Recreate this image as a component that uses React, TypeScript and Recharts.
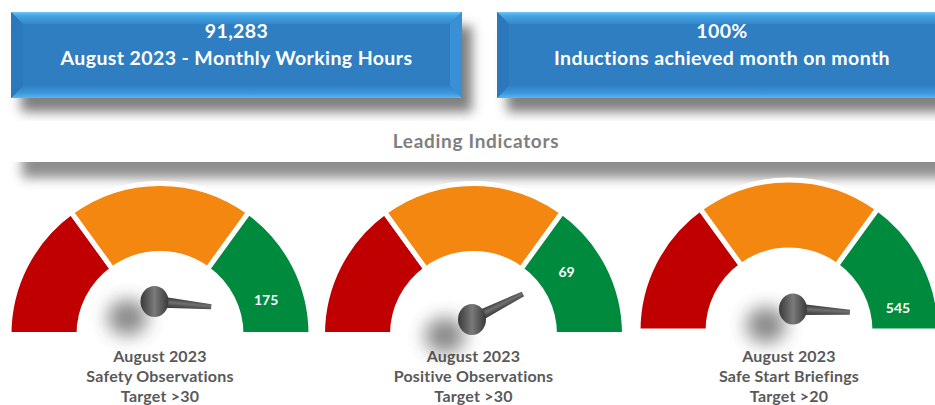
import React from 'react';
import { PieChart, Pie, Cell } from 'recharts';

// ---------- data ----------
const headerValues = ['91,283', '100%'];
const headerLabels = ['August 2023 - Monthly Working Hours', 'Inductions achieved month on month'];
const sectionTitle = 'Leading Indicators';

const gaugePeriods = ['August 2023', 'August 2023', 'August 2023'];
const gaugeNames = ['Safety Observations', 'Positive Observations', 'Safe Start Briefings'];
const gaugeTargets = ['Target >30', 'Target >30', 'Target >20'];
const gaugeValues = [175, 69, 545];
const dialMax = [170, 81, 535];

const bandNames = ['Red', 'Amber', 'Green'];
const bandShares = [30, 40, 30];

// ---------- layout / style ----------
const W = 935;
const H = 405;
const FONT = 'Lato, "Open Sans", "DejaVu Sans", sans-serif';
const bandColors = ['#C00000', '#F4870F', '#008A3E'];
const OUTER = 148.5;
const INNER = 83.5;
const GAP = 5;

const gaugeLayout = [
  { cx: 160, cy: 332, px: 154.5, py: 301.5, labelAngle: 17 },
  { cx: 473.5, cy: 332, px: 472, py: 319.5, labelAngle: 33 },
  { cx: 789, cy: 328.5, px: 793, py: 309, labelAngle: 11 },
];

const headerBoxes = [
  { x: 11, y: 12, w: 451, h: 86 },
  { x: 497, y: 12, w: 450, h: 86 },
];

const bandData = bandNames.map((name, i) => ({ name, value: bandShares[i] }));

function needleData(i: number) {
  return [
    { name: 'value', value: gaugeValues[i] },
    { name: 'rest', value: dialMax[i] * 2 - gaugeValues[i] },
  ];
}

function HeaderBox({ x, y, w, h }: { x: number; y: number; w: number; h: number }) {
  const b = 12;
  return (
    <g>
      <rect x={x + 10} y={y + 14} width={w} height={h} fill="#5f5f5f" opacity={0.8} filter="url(#hdrShadow)" />
      <rect x={x} y={y} width={w} height={h} fill="#2F7EC2" />
      <polygon points={`${x},${y} ${x + w},${y} ${x + w - b},${y + b} ${x + b},${y + b}`} fill="url(#bevTop)" />
      <polygon points={`${x},${y + h} ${x + w},${y + h} ${x + w - b},${y + h - b} ${x + b},${y + h - b}`} fill="url(#bevBot)" />
      <polygon points={`${x},${y} ${x + b},${y + b} ${x + b},${y + h - b} ${x},${y + h}`} fill="#2C78BD" />
      <polygon points={`${x + w},${y} ${x + w - b},${y + b} ${x + w - b},${y + h - b} ${x + w},${y + h}`} fill="#3A90D6" />
    </g>
  );
}

function makeNeedle(gi: number) {
  return (props: any) => {
    if (props.index !== 0) return null;
    const cx = props.cx;
    const cy = props.cy;
    const ang = typeof props.endAngle === 'number' ? props.endAngle : 180 - props.percent * 360;
    const len = 57;
    const id = `ndl${gi}`;
    return (
      <g key={`needle-${gi}`}>
        <defs>
          <filter id={`${id}-sh`} x="-150%" y="-150%" width="400%" height="400%">
            <feGaussianBlur stdDeviation="9" />
          </filter>
          <linearGradient id={`${id}-bar`} x1="0" y1="0" x2="0" y2="1">
            <stop offset="0" stopColor="#2e2e2e" />
            <stop offset="0.45" stopColor="#707070" />
            <stop offset="1" stopColor="#2e2e2e" />
          </linearGradient>
          <linearGradient id={`${id}-hub`} x1="0" y1="0" x2="1" y2="0">
            <stop offset="0" stopColor="#3a3a3a" />
            <stop offset="0.5" stopColor="#7a7a7a" />
            <stop offset="1" stopColor="#3a3a3a" />
          </linearGradient>
        </defs>
        <ellipse cx={cx - 27} cy={cy + 16} rx={20} ry={18} fill="#3a3a3a" opacity={0.6} filter={`url(#${id}-sh)`} />
        <g transform={`rotate(${-ang} ${cx} ${cy})`}>
          <polygon
            points={`${cx},${cy - 6} ${cx + len},${cy - 2.5} ${cx + len},${cy + 2.5} ${cx},${cy + 6}`}
            fill={`url(#${id}-bar)`}
          />
        </g>
        <ellipse cx={cx} cy={cy} rx={14} ry={15.5} fill={`url(#${id}-hub)`} />
      </g>
    );
  };
}

function makeValueLabel(gi: number) {
  return (props: any) => {
    if (props.index !== 2) return null;
    const r = (props.innerRadius + props.outerRadius) / 2 - 5;
    const a = (gaugeLayout[gi].labelAngle * Math.PI) / 180;
    const x = props.cx + r * Math.cos(a);
    const y = props.cy - GAP / 2 - r * Math.sin(a);
    return (
      <text
        key={`vl-${gi}`}
        x={x}
        y={y}
        textAnchor="middle"
        dominantBaseline="central"
        fill="#ffffff"
        fontFamily={FONT}
        fontWeight={700}
        fontSize={14}
      >
        {gaugeValues[gi]}
      </text>
    );
  };
}

export default function App() {
  return (
    <div style={{ position: 'absolute', left: 0, top: 0, width: W, height: H, background: '#ffffff', overflow: 'hidden' }}>
      <svg width={W} height={H} style={{ position: 'absolute', left: 0, top: 0 }}>
        <defs>
          <filter id="hdrShadow" x="-10%" y="-30%" width="120%" height="160%">
            <feGaussianBlur stdDeviation="6" />
          </filter>
          <filter id="bandShadow" x="-5%" y="-100%" width="110%" height="300%">
            <feGaussianBlur stdDeviation="6" />
          </filter>
          <linearGradient id="bevTop" x1="0" y1="0" x2="0" y2="1">
            <stop offset="0" stopColor="#6CC8F7" />
            <stop offset="0.3" stopColor="#45A6E6" />
            <stop offset="1" stopColor="#3486CA" />
          </linearGradient>
          <linearGradient id="bevBot" x1="0" y1="1" x2="0" y2="0">
            <stop offset="0" stopColor="#56B7F0" />
            <stop offset="0.4" stopColor="#3C98DB" />
            <stop offset="1" stopColor="#3082C5" />
          </linearGradient>
        </defs>
        {headerBoxes.map((b, i) => (
          <HeaderBox key={i} {...b} />
        ))}
        {/* section band */}
        <rect x={22} y={148} width={940} height={30} fill="#7a7a7a" opacity={0.85} filter="url(#bandShadow)" />
        <rect x={0} y={121} width={W} height={41} fill="#ffffff" />
        {headerBoxes.map((b, i) => (
          <g key={`ht${i}`}>
            <text x={b.x + b.w / 2} y={38} textAnchor="middle" fill="#ffffff" fontFamily={FONT} fontWeight={700} fontSize={19.5} letterSpacing={0.4}>
              {headerValues[i]}
            </text>
            <text x={b.x + b.w / 2} y={65} textAnchor="middle" fill="#ffffff" fontFamily={FONT} fontWeight={700} fontSize={19.5} letterSpacing={0.4}>
              {headerLabels[i]}
            </text>
          </g>
        ))}
        <text x={476} y={148} textAnchor="middle" fill="#7F7F7F" fontFamily={FONT} fontWeight={700} fontSize={19} letterSpacing={0.7}>
          {sectionTitle}
        </text>
        {gaugeLayout.map((g, i) => (
          <g key={`gt${i}`} fontFamily={FONT} fontWeight={700} fontSize={16} fill="#595959" textAnchor="middle" letterSpacing={0.2}>
            <text x={g.cx} y={361.5}>{gaugePeriods[i]}</text>
            <text x={g.cx} y={381.5}>{gaugeNames[i]}</text>
            <text x={g.cx} y={401.5}>{gaugeTargets[i]}</text>
          </g>
        ))}
      </svg>
      <div style={{ position: 'absolute', left: 0, top: 0 }}>
        <PieChart width={W} height={H} margin={{ top: 0, right: 0, bottom: 0, left: 0 }}>
          {gaugeLayout.map((g, i) => (
            <Pie
              key={`band${i}`}
              name={`band${i}`}
              data={bandData}
              dataKey="value"
              cx={g.cx}
              cy={g.cy + GAP / 2}
              startAngle={180}
              endAngle={0}
              innerRadius={INNER - GAP / 2}
              outerRadius={OUTER + GAP / 2}
              stroke="#ffffff"
              strokeWidth={GAP}
              isAnimationActive={false}
              label={makeValueLabel(i)}
              labelLine={false}
            >
              {bandData.map((d, k) => (
                <Cell key={d.name} fill={bandColors[k]} stroke="#ffffff" strokeWidth={GAP} />
              ))}
            </Pie>
          ))}
          {gaugeLayout.map((g, i) => (
            <Pie
              key={`needle${i}`}
              name={`needle${i}`}
              data={needleData(i)}
              dataKey="value"
              cx={g.px}
              cy={g.py}
              startAngle={180}
              endAngle={-180}
              innerRadius={0}
              outerRadius={57}
              fill="transparent"
              stroke="none"
              isAnimationActive={false}
              label={makeNeedle(i)}
              labelLine={false}
            >
              {needleData(i).map((d) => (
                <Cell key={d.name} fill="transparent" stroke="none" />
              ))}
            </Pie>
          ))}
        </PieChart>
      </div>
    </div>
  );
}
